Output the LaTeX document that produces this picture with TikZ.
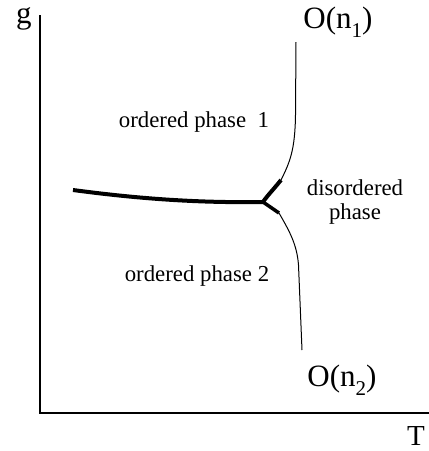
\documentclass[tikz,border=0pt]{standalone}
\usepackage{fontspec}
\setmainfont{Liberation Serif}
\begin{document}
\begin{tikzpicture}[x=1pt,y=-1pt,
  axis/.style={line width=1.2pt},
  thinline/.style={line width=1pt},
  thickline/.style={line width=4pt},
  lbl/.style={inner sep=0pt,font=\fontsize{22.8}{24}\selectfont},
  big/.style={inner sep=0pt,font=\fontsize{31}{33}\selectfont}]
\useasboundingbox (0,0) rectangle (429,451);
% axes
\coordinate (top) at (40,15);
\coordinate (orig) at (40,413);
\coordinate (right) at (429,413);
\draw[axis] (top) -- (orig) -- (right);
\node[big] (g) at (24,19) {g};
\node[big,font=\fontsize{29}{30}\selectfont] (T) at (416,436) {T};
% triple point and lines
\coordinate (tp) at (263,202);
\coordinate (u0) at (296,42);
\coordinate (u1) at (281,180);
\coordinate (l0) at (73,190);
\coordinate (d1) at (279,213);
\coordinate (d2) at (302,350);
\draw[thinline] (u0) -- (295.5,115) .. controls (295,150) and (290,162) .. (u1);
\draw[thickline] (u1) .. controls (273,190) and (267,196) .. (tp);
\draw[thickline] (l0) .. controls (140,199) and (200,203) .. (tp);
\draw[line width=3.5pt] (tp) -- (d1);
\draw[thinline] (d1) .. controls (290,232) and (297,245) .. (298.5,265) -- (d2);
% labels
\node[lbl] (op1) at (194,122) {ordered phase\ \ 1};
\node[lbl,align=center] (dis) at (355,202) {disordered\\phase};
\node[lbl] (op2) at (197,276) {ordered phase 2};
\node[big] (on1) at (338,22) {O(n\raisebox{-0.28em}{\fontsize{21}{21}\selectfont 1})};
\node[big] (on2) at (342,380) {O(n\raisebox{-0.28em}{\fontsize{21}{21}\selectfont 2})};
\end{tikzpicture}
\end{document}
